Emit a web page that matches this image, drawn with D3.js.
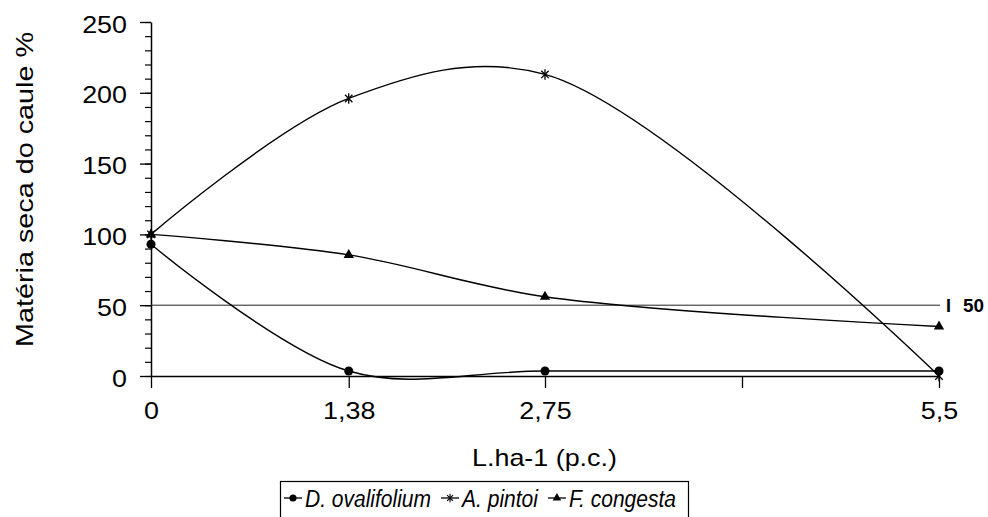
<!DOCTYPE html>
<html><head><meta charset="utf-8">
<script src="https://cdn.jsdelivr.net/npm/d3@7"></script>
<style>
body{margin:0;background:#fff}
text{font-family:"Liberation Sans",Arial,sans-serif;fill:#000}
</style>
</head><body>
<svg id="c" width="988" height="517"></svg>
<script>
// ---- data ----
const doses = [0, 1.38, 2.75, 5.5];
const dOvalifolium = [93, 3.5, 3.5, 3.5];
const aPintoi = [100, 196, 213, 0];
const fCongesta = [100, 85.5, 56, 35];
const seriesNames = ["D. ovalifolium", "A. pintoi", "F. congesta"];
const xTickValues = [0, 1.38, 2.75, 4.125, 5.5];
const xTickLabels = ["0", "1,38", "2,75", "", "5,5"];
const yTickValues = [0, 50, 100, 150, 200, 250];
const yMinorTickValues = d3.range(0, 251, 10);
const referenceValue = 50;
const referenceLabel = "50";
const xTitle = "L.ha-1 (p.c.)";
const yTitle = "Matéria seca do caule %";

// ---- setup ----
const svg = d3.select("#c");
const x = d3.scaleLinear().domain([0, 5.5]).range([151, 939]);
const y = d3.scaleLinear().domain([0, 250]).range([376, 22]);
const STRETCH = 1.12;
function stretch(sel, f) {
  sel.each(function () {
    const L = this.getComputedTextLength();
    if (L > 0) d3.select(this).attr("textLength", L * (f || STRETCH)).attr("lengthAdjust", "spacingAndGlyphs");
  });
}

const starSym = {
  draw(ctx, size) {
    const r = Math.sqrt(size) / 2, d = r * Math.SQRT1_2;
    ctx.moveTo(0, -r); ctx.lineTo(0, r);
    ctx.moveTo(-d, -d); ctx.lineTo(d, d);
    ctx.moveTo(d, -d); ctx.lineTo(-d, d);
  }
};

// ---- axes ----
const yMinor = svg.append("g").attr("transform", "translate(151,0)")
  .call(d3.axisLeft(y).tickValues(yMinorTickValues).tickSize(6).tickFormat(""));
yMinor.select(".domain").remove();
yMinor.selectAll("line").attr("stroke", "#000").attr("stroke-width", 1.2);

const yAxis = svg.append("g").attr("transform", "translate(151,0)")
  .call(d3.axisLeft(y).tickValues(yTickValues).tickSize(11).tickSizeOuter(0).tickPadding(13).tickFormat(d3.format("d")));
yAxis.selectAll("line").attr("stroke", "#000").attr("stroke-width", 1.3);
yAxis.select(".domain").attr("stroke", "#000").attr("stroke-width", 1.5);
yAxis.selectAll("text").attr("font-size", 24).attr("dy", "0.42em").attr("font-family", null);

const xAxis = svg.append("g").attr("transform", "translate(0,376)")
  .call(d3.axisBottom(x).tickValues(xTickValues).tickSize(12).tickSizeOuter(0).tickPadding(14)
    .tickFormat((d, i) => xTickLabels[i]));
xAxis.selectAll("line").attr("stroke", "#000").attr("stroke-width", 1.3);
xAxis.select(".domain").attr("stroke", "#000").attr("stroke-width", 1.5);
xAxis.selectAll("text").attr("font-size", 24).attr("font-family", null);
stretch(yAxis.selectAll("text"));
stretch(xAxis.selectAll("text"));

// axis titles
const xt = svg.append("text").attr("x", 544.5).attr("y", 466).attr("text-anchor", "middle")
  .attr("font-size", 24).text(xTitle);
stretch(xt);
svg.append("text").attr("transform", "translate(33,189.5) rotate(-90)").attr("text-anchor", "middle")
  .attr("font-size", 24).attr("textLength", 315).attr("lengthAdjust", "spacingAndGlyphs").text(yTitle);

// reference line
svg.append("line").attr("x1", x(0)).attr("x2", 940).attr("y1", y(referenceValue)).attr("y2", y(referenceValue))
  .attr("stroke", "#222").attr("stroke-width", 1);
const rl = svg.append("g").attr("font-size", 18).attr("font-weight", "bold");
rl.append("text").attr("x", 946).attr("y", y(referenceValue) + 7).text("I");
const rl2 = rl.append("text").attr("x", 963).attr("y", y(referenceValue) + 7).text(referenceLabel);
stretch(rl2, 1.05);

// ---- series ----
const series = [
  { name: seriesNames[0], values: dOvalifolium, sym: d3.symbolCircle, size: 64, lsize: 40, fill: "#000", stroke: "none" },
  { name: seriesNames[1], values: aPintoi, sym: starSym, size: 110, lsize: 70, fill: "none", stroke: "#000" },
  { name: seriesNames[2], values: fCongesta, sym: d3.symbolTriangle, size: 46, lsize: 32, fill: "#000", stroke: "none" }
];
const line = d3.line().x((d, i) => x(doses[i])).y(d => y(d)).curve(d3.curveCatmullRom);

series.forEach(s => {
  svg.append("path").attr("d", line(s.values)).attr("fill", "none").attr("stroke", "#000").attr("stroke-width", 1.4);
});
series.forEach(s => {
  svg.append("g").selectAll("path").data(s.values).join("path")
    .attr("transform", (d, i) => `translate(${x(doses[i])},${y(d)})`)
    .attr("d", d3.symbol().type(s.sym).size(s.size))
    .attr("fill", s.fill).attr("stroke", s.stroke).attr("stroke-width", 1.3);
});

// ---- legend ----
svg.append("rect").attr("x", 280.5).attr("y", 481.5).attr("width", 408).attr("height", 60)
  .attr("fill", "none").attr("stroke", "#000").attr("stroke-width", 1.2);
const legY = 498;
let cursor = 284;
series.forEach((s, i) => {
  const g = svg.append("g");
  g.append("line").attr("x1", cursor).attr("x2", cursor + 18).attr("y1", legY).attr("y2", legY)
    .attr("stroke", "#000").attr("stroke-width", 1.3);
  g.append("path").attr("transform", `translate(${cursor + 9},${legY})`)
    .attr("d", d3.symbol().type(s.sym).size(s.lsize))
    .attr("fill", s.fill).attr("stroke", s.stroke).attr("stroke-width", 1.1);
  const t = g.append("text").attr("x", cursor + 21).attr("y", 507).attr("font-size", 23)
    .attr("font-style", "italic").text(s.name);
  const L = t.node().getComputedTextLength() * 21 / 23;
  t.attr("textLength", L).attr("lengthAdjust", "spacingAndGlyphs");
  cursor += 21 + L + 10;
});
</script>
</body></html>
